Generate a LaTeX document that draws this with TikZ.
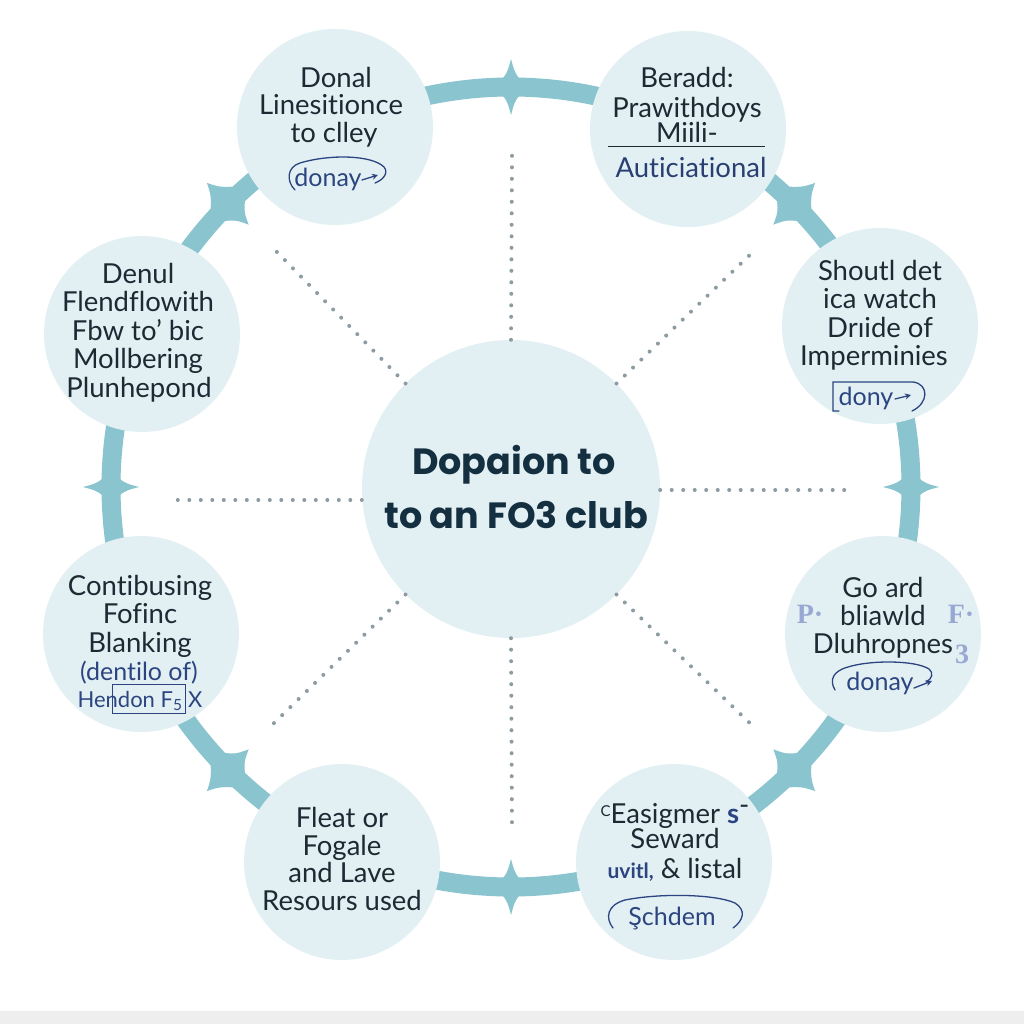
\documentclass[tikz,border=0pt]{standalone}
\usepackage{fontspec}
\newfontfamily\lato{Lato}[Ligatures=NoCommon]
\newfontfamily\pop{Poppins}
\newfontfamily\serifb{Liberation Serif}
\usetikzlibrary{arrows.meta}
\definecolor{bubfill}{HTML}{E2F0F4}
\definecolor{ringc}{HTML}{8AC4CF}
\definecolor{ink}{HTML}{1E2A33}
\definecolor{hubink}{HTML}{143040}
\definecolor{notec}{HTML}{2C4580}
\definecolor{spokec}{HTML}{8D9CA2}
\definecolor{ghostc}{HTML}{98A8D2}
\definecolor{stripc}{HTML}{EEEEEE}
\tikzset{
  bub/.style={circle, fill=bubfill, minimum size=196pt, inner sep=0pt},
  hub/.style={circle, fill=bubfill, minimum size=298pt, inner sep=0pt},
  lab/.style={font=\lato\fontsize{27.5}{29}\selectfont, text=ink, inner sep=0pt, anchor=base},
  note/.style={font=\lato\fontsize{25}{27}\selectfont, text=notec, inner sep=0pt, anchor=base},
  hubtext/.style={font=\pop\bfseries\fontsize{36.5}{40}\selectfont, text=hubink, inner sep=0pt, anchor=base},
  ringline/.style={draw=ringc, line width=19pt},
  spoke/.style={draw=spokec, line width=4pt, line cap=round, dash pattern=on 0pt off 11.5pt},
  scribble/.style={draw=notec, line width=1.3pt, line cap=round},
  ghost/.style={font=\serifb\bfseries\fontsize{28}{28}\selectfont, text=ghostc, inner sep=0pt, anchor=base},
}
\begin{document}
\begin{tikzpicture}[x=1pt,y=-1pt]
\fill[white] (0,0) rectangle (1024,1024);
\useasboundingbox (0,0) rectangle (1024,1024);
\fill[stripc] (0,1011) rectangle (1024,1024);

\coordinate (C) at (511,487);
% ring
\draw[ringline] (C) circle (400);
\foreach \a in {0,90,180,270}{
  \begin{scope}[shift={(C)}, rotate=\a]
    \fill[ringc] (428,0) .. controls (413,4) .. (400,16) .. controls (387,4) .. (372,0)
      .. controls (387,-4) .. (400,-16) .. controls (413,-4) .. (428,0) -- cycle;
  \end{scope}
}
\foreach \a in {45,135,225,315}{
  \begin{scope}[shift={(C)}, rotate=\a]
    \fill[ringc] (430,0) .. controls (418,6) .. (405,20) -- (400,12) -- (395,20)
      .. controls (384,6) .. (371,0) .. controls (384,-6) .. (395,-20) -- (400,-12) -- (405,-20)
      .. controls (418,-6) .. (430,0) -- cycle;
  \end{scope}
}

% bubbles
\node[bub] (b1) at (335,127) {};
\node[bub] (b2) at (688,129) {};
\node[bub] (b3) at (142,334) {};
\node[bub] (b4) at (880,326) {};
\node[bub] (b5) at (141,634) {};
\node[bub] (b6) at (883,634) {};
\node[bub] (b7) at (342,862) {};
\node[bub] (b8) at (674,862) {};
\node[hub] (hub) at (511,489) {};

% spokes
\coordinate (sN) at (512,155);
\coordinate (sS) at (512,830);
\coordinate (sW) at (175,500);
\coordinate (sE) at (852,490);
\coordinate (sNW) at (275,250);
\coordinate (sNE) at (757,248);
\coordinate (sSW) at (270,727);
\coordinate (sSE) at (757,730);
\draw[spoke] (hub.north) -- (sN);
\draw[spoke] (hub.south) -- (sS);
\draw[spoke] (hub.west |- sW) -- (sW);
\draw[spoke] (hub.east |- sE) -- (sE);
\draw[spoke] (hub.135) -- (sNW);
\draw[spoke] (hub.45) -- (sNE);
\draw[spoke] (hub.225) -- (sSW);
\draw[spoke] (hub.315) -- (sSE);

% hub text
\node[hubtext] (h1) at (514,474) {Dopaion to};
\node[hubtext] (h2) at (516,528) {to an FO3 club};

% bubble 1
\node[lab] (t1a) at (336,88) {Donal};
\node[lab] (t1b) at (331,115) {Linesitionce};
\node[lab] (t1c) at (334,143) {to clley};
\node[note] (n1) at (328,187) {donay};
\draw[scribble] (295,190) .. controls (286,181) and (287,167) .. (300,163) .. controls (330,154) and (372,155) .. (384,167) .. controls (389,173) and (383,180) .. (375,183);
\draw[scribble, -{Stealth[length=6pt,width=6pt]}] (362,180) -- (378,175);

% bubble 2
\node[lab] (t2a) at (687,88) {Beradd:};
\node[lab] (t2b) at (687,118) {Prawithdoys};
\node[lab] (t2c) at (687,143) {Miili-};
\draw[draw=ink, line width=1pt] (608,147) -- (765,147);
\node[lab, text=notec!80!ink] (t2d) at (691,178) {Auticiational};

% bubble 3
\node[lab] (t3a) at (138,283) {Denul};
\node[lab] (t3b) at (138,311.5) {Flendflowith};
\node[lab] (t3c) at (138,340) {Fbw to’ bic};
\node[lab] (t3d) at (138,368.5) {Mollbering};
\node[lab] (t3e) at (139,397) {Plunhepond};

% bubble 4
\node[lab] (t4a) at (880,280) {Shoutl det};
\node[lab] (t4b) at (880,308) {ica watch};
\node[lab] (t4c) at (880,337) {Drıide of};
\node[lab] (t4d) at (874,365) {Imperminies};
\node[note] (n4) at (866,405) {dony};
\draw[scribble] (839,411) -- (833,411) -- (833,382) -- (913,382) .. controls (929,384) and (929,403) .. (912,411);
\draw[scribble, -{Stealth[length=6pt,width=6pt]}] (895,399) -- (911,395);

% bubble 5
\node[lab] (t5a) at (140,595) {Contibusing};
\node[lab] (t5b) at (140,623) {Fofinc};
\node[lab] (t5c) at (140,652) {Blanking};
\node[note] (n5a) at (139,680) {(dentilo of)};
\node[note, font=\lato\fontsize{22}{24}\selectfont] (n5b) at (140,707) {Hendon F\textsubscript{5} X};
\draw[scribble, line width=1pt] (112,684) rectangle (185,713);

% bubble 6
\node[ghost] (g1) at (810,623) {P·};
\node[ghost] (g2) at (961,623) {F·};
\node[ghost] (g3) at (962,663) {3};
\node[lab] (t6a) at (883,597) {Go ard};
\node[lab] (t6b) at (883,625) {bliawld};
\node[lab] (t6c) at (883,653) {Dluhropnes};
\node[note] (n6) at (880,690) {donay};
\draw[scribble] (835,690) .. controls (829,680) and (833,671) .. (848,667) .. controls (870,660) and (915,660) .. (929,669) .. controls (934,673) and (932,679) .. (926,682);
\draw[scribble, -{Stealth[length=6pt,width=6pt]}] (914,688) -- (932,681);

% bubble 7
\node[lab] (t7a) at (342,827) {Fleat or};
\node[lab] (t7b) at (342,855) {Fogale};
\node[lab] (t7c) at (342,882) {and Lave};
\node[lab] (t7d) at (342,910) {Resours used};

% bubble 8
\node[lab] (t8a) at (675,823) {\raisebox{7pt}{\fontsize{15}{15}\selectfont C}Easigmer {\color{notec}\bfseries s}\raisebox{9pt}{-}};
\node[lab] (t8b) at (675,848) {Seward};
\node[lab] (t8c) at (675,878) {{\color{notec}\bfseries\fontsize{21}{21}\selectfont uvitl,} \& listal};
\node[note] (n8) at (672,925) {Şchdem};
\draw[scribble] (613,928) .. controls (605,918) and (607,905) .. (625,900) .. controls (660,893) and (715,894) .. (735,903) .. controls (746,910) and (744,920) .. (733,928);
\end{tikzpicture}
\end{document}
